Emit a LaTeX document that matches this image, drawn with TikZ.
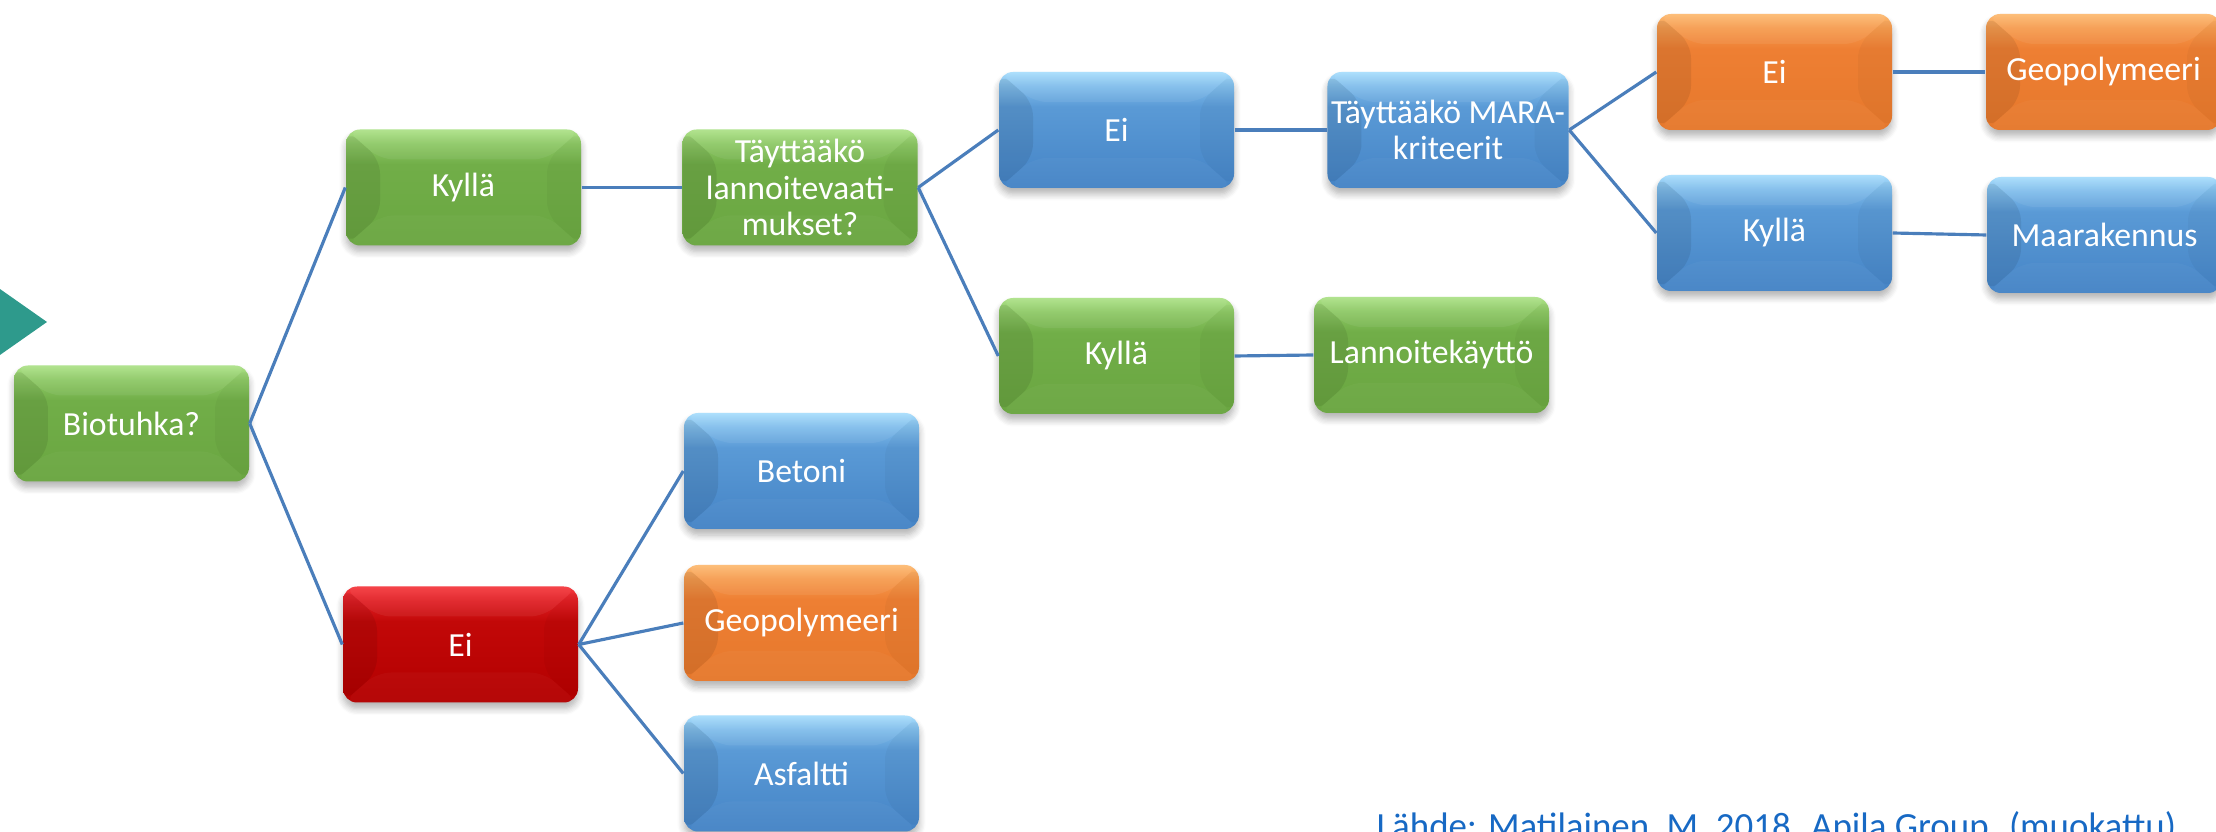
\documentclass[tikz,border=0pt]{standalone}
\usepackage{fontspec}
\setmainfont{Carlito}
\usetikzlibrary{calc,positioning,shadows.blur}
% box colours, from the bottom edge up to the top highlight
\definecolor{biogreenlo}{HTML}{6AA641}
\definecolor{biogreen}{HTML}{71AE48}
\definecolor{biogreenmid}{HTML}{8DC865}
\definecolor{biogreenhi}{HTML}{ADE288}
\definecolor{bioblueLo}{HTML}{4584C6}
\definecolor{bioblue}{HTML}{5A9AD6}
\definecolor{bioblueMid}{HTML}{80BDEB}
\definecolor{bioblueHi}{HTML}{A8DDFC}
\definecolor{bioorangelo}{HTML}{E6782C}
\definecolor{bioorange}{HTML}{EE7F33}
\definecolor{bioorangemid}{HTML}{F69B4E}
\definecolor{bioorangehi}{HTML}{FDBA72}
\definecolor{bioredlo}{HTML}{B30000}
\definecolor{biored}{HTML}{C20808}
\definecolor{bioredmid}{HTML}{E01F24}
\definecolor{bioredhi}{HTML}{F5393E}
\definecolor{biolink}{HTML}{4A7EBB}
\definecolor{bioteal}{HTML}{2E9A8C}
\definecolor{biosource}{HTML}{1769C4}
\pgfdeclareverticalshading{bio green shade}{100bp}{color(0bp)=(biogreenlo); color(25bp)=(biogreenlo);
  color(60bp)=(biogreen); color(69bp)=(biogreenmid); color(75bp)=(biogreenhi); color(100bp)=(biogreenhi)}
\pgfdeclareverticalshading{bio blue shade}{100bp}{color(0bp)=(bioblueLo); color(25bp)=(bioblueLo);
  color(60bp)=(bioblue); color(69bp)=(bioblueMid); color(75bp)=(bioblueHi); color(100bp)=(bioblueHi)}
\pgfdeclareverticalshading{bio orange shade}{100bp}{color(0bp)=(bioorangelo); color(25bp)=(bioorangelo);
  color(60bp)=(bioorange); color(69bp)=(bioorangemid); color(75bp)=(bioorangehi); color(100bp)=(bioorangehi)}
\pgfdeclareverticalshading{bio red shade}{100bp}{color(0bp)=(bioredlo); color(25bp)=(bioredlo);
  color(60bp)=(biored); color(69bp)=(bioredmid); color(75bp)=(bioredhi); color(100bp)=(bioredhi)}
\tikzset{
  bio box/.style={
    rounded corners=4pt,
    minimum width=2.35cm,
    minimum height=1.16cm,
    inner sep=1pt,
    align=center,
    text=white,
    font=\fontsize{9.6}{10.4}\selectfont,
    blur shadow={shadow xshift=0pt, shadow yshift=-0.06cm,
                 shadow blur steps=6, shadow opacity=30},
    path picture={
      \coordinate (bnw) at (path picture bounding box.north west);
      \coordinate (bne) at (path picture bounding box.north east);
      \coordinate (bsw) at (path picture bounding box.south west);
      \coordinate (bse) at (path picture bounding box.south east);
      \fill[white, opacity=0.06] (bnw) -- (bne) -- ($(bne)+(-0.34,-0.3)$) -- ($(bnw)+(0.34,-0.3)$) -- cycle;
      \fill[black, opacity=0.08] (bnw) -- ($(bnw)+(0.34,-0.3)$) -- ($(bsw)+(0.34,0.3)$) -- (bsw) -- cycle;
      \fill[black, opacity=0.03] (bne) -- ($(bne)+(-0.34,-0.3)$) -- ($(bse)+(-0.34,0.3)$) -- (bse) -- cycle;
      \fill[white, opacity=0.03] (bsw) -- ($(bsw)+(0.34,0.3)$) -- ($(bse)+(-0.34,0.3)$) -- (bse) -- cycle;
    },
  },
  bio green/.style={bio box, shade, shading=bio green shade},
  bio blue/.style={bio box, shade, shading=bio blue shade},
  bio orange/.style={bio box, shade, shading=bio orange shade},
  bio red/.style={bio box, shade, shading=bio red shade},
  bio link/.style={draw=biolink, line width=0.9pt},
}

\begin{document}
\begin{tikzpicture}
  \useasboundingbox (0,0) rectangle (22.16,-8.32);

  % --- teal marker at the left edge ---
  \fill[bioteal] (-0.3,-2.68) -- (0.47,-3.22) -- (-0.3,-3.76) -- cycle;

  % --- Root question ---
  \node[bio green] (bio) at (1.315,-4.235) {Biotuhka?};

  % --- Yes branch: fertiliser requirements ---
  \node[bio green] (yes)     at (4.635,-1.875) {Kyllä};
  \node[bio green] (fertq)   at (8.0,-1.875)   {Täyttääkö\\lannoitevaati-\\mukset?};
  \node[bio blue]  (fertno)  at (11.165,-1.30) {Ei};
  \node[bio green] (fertyes) at (11.165,-3.56) {Kyllä};
  \node[bio green] (fertuse) at (14.315,-3.55) {Lannoitekäyttö};

  % --- MARA criteria ---
  \node[bio blue]   (maraq)   at (14.48,-1.30)  {Täyttääkö MARA-\\kriteerit};
  \node[bio orange] (marano)  at (17.745,-0.72) {Ei};
  \node[bio orange] (geotop)  at (21.035,-0.72) {Geopolymeeri};
  \node[bio blue]   (marayes) at (17.745,-2.33) {Kyllä};
  \node[bio blue]   (earth)   at (21.045,-2.35) {Maarakennus};

  % --- No branch ---
  \node[bio red]    (no)       at (4.605,-6.445) {Ei};
  \node[bio blue]   (concrete) at (8.015,-4.71)  {Betoni};
  \node[bio orange] (geolow)   at (8.015,-6.23)  {Geopolymeeri};
  \node[bio blue]   (asphalt)  at (8.015,-7.735) {Asfaltti};

  % --- Connectors ---
  \draw[bio link] (bio.east) -- (yes.west);
  \draw[bio link] (bio.east) -- (no.west);
  \draw[bio link] (yes.east) -- (fertq.west);
  \draw[bio link] (fertq.east) -- (fertno.west);
  \draw[bio link] (fertq.east) -- (fertyes.west);
  \draw[bio link] (fertyes.east) -- (fertuse.west);
  \draw[bio link] (fertno.east) -- (maraq.west);
  \draw[bio link] (maraq.east) -- (marano.west);
  \draw[bio link] (maraq.east) -- (marayes.west);
  \draw[bio link] (marano.east) -- (geotop.west);
  \draw[bio link] (marayes.east) -- (earth.west);
  \draw[bio link] (no.east) -- (concrete.west);
  \draw[bio link] (no.east) -- (geolow.west);
  \draw[bio link] (no.east) -- (asphalt.west);

  % --- Source line, cut by the lower edge ---
  \node[anchor=base west, inner sep=0pt, text=biosource, font=\fontsize{10.5}{12}\selectfont]
    (source) at (13.76,-8.39) {Lähde: Matilainen, M. 2018. Apila Group. (muokattu)};

\end{tikzpicture}
\end{document}
